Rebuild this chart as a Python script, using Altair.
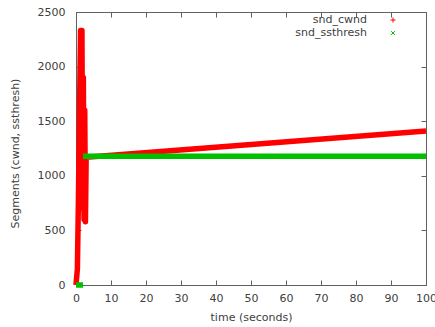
import altair as alt
import pandas as pd

# congestion window trace (segments) over time (seconds)
cwnd_time = [0.0, 0.4, 0.7, 1.0, 1.3, 1.5, 1.7, 1.9, 2.1, 2.3, 2.5, 2.7, 2.9, 100.0]
cwnd_vals = [0, 150, 800, 1600, 2330, 1300, 2330, 700, 1900, 600, 1600, 580, 1170, 1410]

# slow-start threshold trace (two flat pieces)
ssth_time = [0.0, 2.0, 2.0, 100.0]
ssth_vals = [0, 0, 1180, 1180]
ssth_piece = [0, 0, 1, 1]

series_names = ["snd_cwnd", "snd_ssthresh"]
series_colors = ["#ff0000", "#00c000"]

x_ticks = [0, 10, 20, 30, 40, 50, 60, 70, 80, 90, 100]
y_ticks = [0, 500, 1000, 1500, 2000, 2500]

W, H = 350, 273
FONT = "DejaVu Sans"
TXT = "#404040"
FRAME = "#606060"
TL = 5  # tick length

# one long table: cwnd first so ssthresh is drawn over it
rows = []
for t, v in zip(cwnd_time, cwnd_vals):
    rows.append({"t": t, "v": v, "series": series_names[0], "piece": "0"})
for t, v, p in zip(ssth_time, ssth_vals, ssth_piece):
    rows.append({"t": t, "v": v, "series": series_names[1], "piece": f"1-{p}"})
df = pd.DataFrame(rows)

xs = alt.Scale(domain=[0, 100], nice=False)
ys = alt.Scale(domain=[0, 2500], nice=False)

# bottom/left axes pulled inside by the tick length so their ticks point inward
common = dict(ticks=True, tickSize=TL, tickColor=FRAME, tickWidth=1, domain=False,
              grid=False, format="d", labelOverlap=False, labelFlush=False, offset=-TL)
x_axis = alt.Axis(orient="bottom", values=x_ticks, labelPadding=7, title="time (seconds)",
                  titleY=37, titleBaseline="middle", titleFontWeight="normal", **common)
y_axis = alt.Axis(orient="left", values=y_ticks, labelPadding=11, title="Segments (cwnd, ssthresh)",
                  titleAngle=-90, titleX=-66, titleY=141, titleAlign="center",
                  titleBaseline="middle", titleFontWeight="normal", **common)
# mirrored tick marks on the top and right edges, no labels
x_axis_top = alt.Axis(orient="top", values=x_ticks, labels=False, title=None, **common)
y_axis_right = alt.Axis(orient="right", values=y_ticks, labels=False, title=None, **common)

lines = alt.Chart(df).mark_line(strokeWidth=5.5, strokeJoin="round", strokeCap="butt").encode(
    x=alt.X("t:Q", scale=xs, axis=x_axis),
    y=alt.Y("v:Q", scale=ys, axis=y_axis),
    color=alt.Color("series:N", scale=alt.Scale(domain=series_names, range=series_colors), legend=None),
    detail="piece:N",
)

mirror = alt.Chart(df).mark_point(opacity=0).encode(
    x=alt.X("t:Q", scale=xs, axis=x_axis_top),
    y=alt.Y("v:Q", scale=ys, axis=y_axis_right),
)

# key in the upper right corner
key_rows = [8, 21]
key_layers = []
key_shapes = ["M-1,0L1,0M0,-1L0,1", "M-1,-1L1,1M-1,1L1,-1"]
key_sizes = [25, 14]
for name, color, row, shape, size in zip(series_names, series_colors, key_rows, key_shapes, key_sizes):
    kd = pd.DataFrame({"name": [name]})
    key_layers.append(
        alt.Chart(kd).mark_text(align="right", baseline="middle", font=FONT, fontSize=11, color=TXT).encode(
            x=alt.value(291), y=alt.value(row), text="name:N"))
    key_layers.append(
        alt.Chart(kd).mark_point(shape=shape, size=size, filled=False, strokeWidth=1, color=color, opacity=1).encode(
            x=alt.value(317), y=alt.value(row)))

chart = alt.layer(lines, mirror, *key_layers).resolve_axis(
    x="independent", y="independent"
).properties(
    width=W, height=H,
    autosize=alt.AutoSizeParams(type="none"),
    padding={"left": 76, "top": 12, "right": 9, "bottom": 42},
    background="white",
).configure_view(
    stroke=FRAME, strokeWidth=1
).configure_axis(
    labelFont=FONT, titleFont=FONT, labelFontSize=11, titleFontSize=11,
    labelColor=TXT, titleColor=TXT,
)

chart.save("out.html", embed_options={"renderer": "svg", "actions": False})
